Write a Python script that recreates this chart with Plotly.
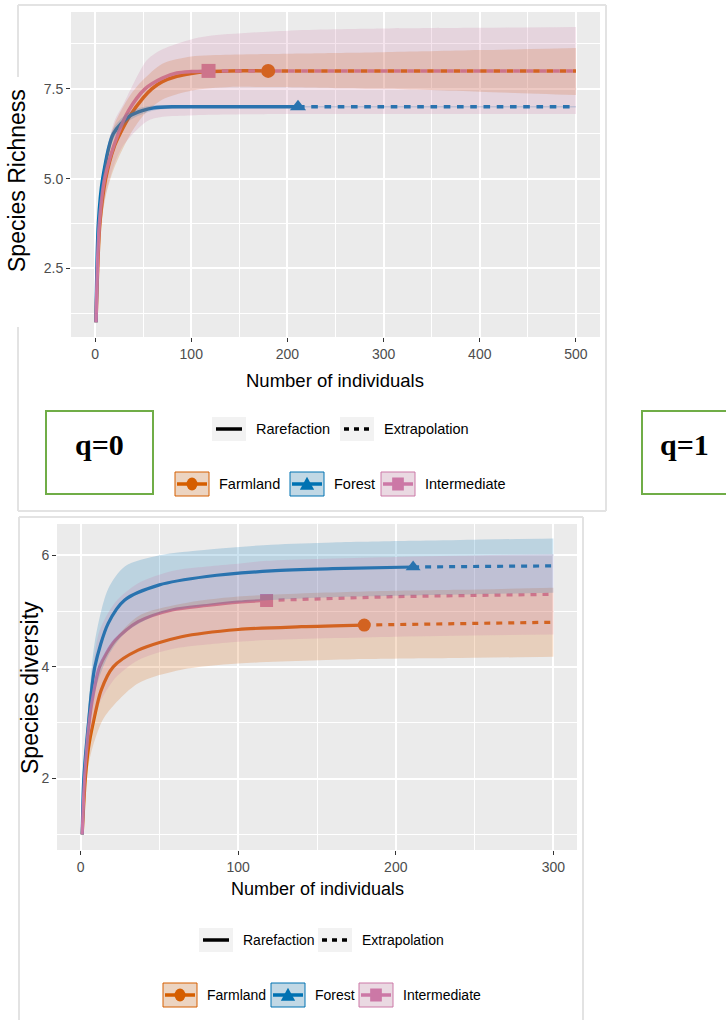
import plotly.graph_objects as go

# ---------------- DATA ----------------
groups = ["Farmland", "Forest", "Intermediate"]
colors = {"Farmland": "#D55E00", "Forest": "#0072B2", "Intermediate": "#CC79A7"}
fills = {"Farmland": "rgba(213,94,0,0.2)", "Forest": "rgba(0,114,178,0.2)",
         "Intermediate": "rgba(204,121,167,0.2)"}
symbols = {"Farmland": "circle", "Forest": "triangle-up", "Intermediate": "square"}

# q = 0 : species richness
q0_farm_rare_n = [1, 5, 11, 20, 26, 36, 50, 59, 70, 85, 100, 116, 140, 180]
q0_farm_rare_v = [1.0, 3.75, 5.0, 5.9, 6.25, 6.74, 7.25, 7.5, 7.7, 7.85, 7.93, 7.98, 8.0, 8.0]
q0_farm_ext_n = [180, 250, 300, 400, 500]
q0_farm_ext_v = [8.0, 8.0, 8.0, 8.0, 8.0]
q0_farm_ci_n = [1, 5, 11, 20, 36, 50, 70, 100, 140, 180, 250, 300, 400, 500]
q0_farm_ci_lo = [1.0, 3.4, 4.5, 5.3, 6.2, 6.75, 7.2, 7.45, 7.55, 7.55, 7.52, 7.5, 7.42, 7.33]
q0_farm_ci_hi = [1.0, 4.1, 5.5, 6.5, 7.3, 7.75, 8.2, 8.4, 8.45, 8.47, 8.5, 8.52, 8.58, 8.64]

q0_forest_rare_n = [1, 3.5, 8, 19, 36, 50, 61, 80, 120, 211]
q0_forest_rare_v = [1.0, 3.75, 5.0, 6.25, 6.74, 6.9, 6.97, 7.0, 7.0, 7.0]
q0_forest_ext_n = [211, 300, 400, 500]
q0_forest_ext_v = [7.0, 7.0, 7.0, 7.0]
q0_forest_ci_n = [1, 3.5, 8, 19, 36, 61, 100, 211, 500]
q0_forest_ci_lo = [1.0, 3.6, 4.85, 6.1, 6.62, 6.9, 6.97, 6.98, 6.98]
q0_forest_ci_hi = [1.0, 3.9, 5.15, 6.4, 6.86, 7.04, 7.02, 7.02, 7.02]

q0_inter_rare_n = [1, 4.5, 10, 24, 35, 52, 70, 85, 100, 118]
q0_inter_rare_v = [1.0, 3.75, 5.0, 6.25, 6.9, 7.5, 7.8, 7.94, 7.98, 8.0]
q0_inter_ext_n = [118, 200, 300, 400, 500]
q0_inter_ext_v = [8.0, 8.0, 8.0, 8.0, 8.0]
q0_inter_ci_n = [1, 5, 10, 20, 30, 54, 70, 99, 118, 200, 300, 400, 500]
q0_inter_ci_lo = [1.0, 3.3, 4.4, 5.4, 5.95, 6.6, 6.72, 6.76, 6.78, 6.8, 6.8, 6.8, 6.8]
q0_inter_ci_hi = [1.0, 4.2, 5.5, 6.6, 7.1, 8.3, 8.6, 8.87, 8.97, 9.12, 9.18, 9.2, 9.22]

q0_obs_n = {"Farmland": 180, "Forest": 211, "Intermediate": 118}
q0_obs_v = {"Farmland": 8.0, "Forest": 7.0, "Intermediate": 8.0}

# q = 1 : species diversity
q1_farm_rare_n = [1, 3, 5, 8, 13, 20.7, 36.5, 64, 100, 140, 180]
q1_farm_rare_v = [1.0, 2.0, 2.55, 3.0, 3.58, 4.0, 4.3, 4.54, 4.67, 4.72, 4.75]
q1_farm_ext_n = [180, 240, 300]
q1_farm_ext_v = [4.75, 4.78, 4.80]
q1_farm_ci_n = [1, 3, 5, 8, 15, 36, 64, 100, 180, 240, 300]
q1_farm_ci_lo = [1.0, 1.8, 2.25, 2.6, 3.1, 3.7, 3.95, 4.06, 4.14, 4.16, 4.18]
q1_farm_ci_hi = [1.0, 2.2, 2.85, 3.4, 4.2, 4.9, 5.13, 5.26, 5.35, 5.38, 5.42]

q1_forest_rare_n = [1, 2, 5, 9, 17.5, 28, 50, 80, 121, 160, 211]
q1_forest_rare_v = [1.0, 2.0, 3.0, 4.0, 4.78, 5.2, 5.47, 5.62, 5.72, 5.76, 5.79]
q1_forest_ext_n = [211, 250, 300]
q1_forest_ext_v = [5.79, 5.80, 5.81]
q1_forest_ci_n = [1, 2, 5, 9, 17.5, 28, 50, 80, 121, 160, 211, 250, 300]
q1_forest_ci_lo = [1.0, 1.9, 2.7, 3.55, 4.2, 4.6, 4.95, 5.1, 5.2, 5.25, 5.28, 5.3, 5.33]
q1_forest_ci_hi = [1.0, 2.1, 3.3, 4.45, 5.4, 5.8, 6.0, 6.1, 6.19, 6.23, 6.26, 6.28, 6.30]

q1_inter_rare_n = [1, 2.5, 5, 8, 12, 22, 36.5, 58, 80, 100, 118]
q1_inter_rare_v = [1.0, 2.0, 2.9, 3.5, 4.0, 4.48, 4.81, 5.02, 5.1, 5.16, 5.19]
q1_inter_ext_n = [118, 200, 300]
q1_inter_ext_v = [5.19, 5.26, 5.30]
q1_inter_ci_n = [1, 2.5, 5, 8, 12, 22, 36.5, 58, 80, 100, 118, 200, 300]
q1_inter_ci_lo = [1.0, 1.85, 2.5, 2.95, 3.35, 3.8, 4.12, 4.32, 4.4, 4.45, 4.48, 4.54, 4.58]
q1_inter_ci_hi = [1.0, 2.15, 3.3, 4.05, 4.65, 5.16, 5.5, 5.72, 5.8, 5.85, 5.9, 5.97, 6.02]

q1_obs_n = {"Farmland": 180, "Forest": 211, "Intermediate": 118}
q1_obs_v = {"Farmland": 4.75, "Forest": 5.79, "Intermediate": 5.19}

x0_ticks = [0, 100, 200, 300, 400, 500]
y0_ticks = [2.5, 5.0, 7.5]
y0_ticktext = ["2.5", "5.0", "7.5"]
x1_ticks = [0, 100, 200, 300]
y1_ticks = [2, 4, 6]

panels = {
    "q0": {
        "Farmland": (q0_farm_rare_n, q0_farm_rare_v, q0_farm_ext_n, q0_farm_ext_v,
                     q0_farm_ci_n, q0_farm_ci_lo, q0_farm_ci_hi),
        "Forest": (q0_forest_rare_n, q0_forest_rare_v, q0_forest_ext_n, q0_forest_ext_v,
                   q0_forest_ci_n, q0_forest_ci_lo, q0_forest_ci_hi),
        "Intermediate": (q0_inter_rare_n, q0_inter_rare_v, q0_inter_ext_n, q0_inter_ext_v,
                         q0_inter_ci_n, q0_inter_ci_lo, q0_inter_ci_hi),
    },
    "q1": {
        "Farmland": (q1_farm_rare_n, q1_farm_rare_v, q1_farm_ext_n, q1_farm_ext_v,
                     q1_farm_ci_n, q1_farm_ci_lo, q1_farm_ci_hi),
        "Forest": (q1_forest_rare_n, q1_forest_rare_v, q1_forest_ext_n, q1_forest_ext_v,
                   q1_forest_ci_n, q1_forest_ci_lo, q1_forest_ci_hi),
        "Intermediate": (q1_inter_rare_n, q1_inter_rare_v, q1_inter_ext_n, q1_inter_ext_v,
                         q1_inter_ci_n, q1_inter_ci_lo, q1_inter_ci_hi),
    },
}
obs = {"q0": (q0_obs_n, q0_obs_v), "q1": (q1_obs_n, q1_obs_v)}

# ---------------- LAYOUT HELPERS ----------------
W, H = 726, 1020


def X(p):
    return p / W


def Y(p):
    return 1 - p / H


SANS = "Liberation Sans, Arial, sans-serif"
SERIF = "Liberation Serif, Times New Roman, serif"

fig = go.Figure()

axes = {"q0": ("x", "y"), "q1": ("x2", "y2")}
lw = {"q0": 3.5, "q1": 3.2}
msize = {"q0": 14, "q1": 13}
dashes = {"q0": "6.6px,6.65px", "q1": "6px,6px"}

for key in ["q0", "q1"]:
    xa, ya = axes[key]
    for g in groups:
        rn, rv, en, ev, cn, clo, chi = panels[key][g]
        fig.add_trace(go.Scatter(x=rn, y=rv, xaxis=xa, yaxis=ya, mode="lines",
                                 line=dict(color=colors[g], width=lw[key], shape="spline", smoothing=0.8),
                                 showlegend=False, hoverinfo="skip"))
        fig.add_trace(go.Scatter(x=en, y=ev, xaxis=xa, yaxis=ya, mode="lines",
                                 line=dict(color=colors[g], width=lw[key], dash=dashes[key]),
                                 showlegend=False, hoverinfo="skip"))
    for g in groups:
        on, ov = obs[key]
        fig.add_trace(go.Scatter(x=[on[g]], y=[ov[g]], xaxis=xa, yaxis=ya, mode="markers",
                                 marker=dict(color=colors[g], symbol=symbols[g], size=msize[key]),
                                 showlegend=False, hoverinfo="skip"))
    # ribbons on top (as in ggiNEXT)
    for g in groups:
        rn, rv, en, ev, cn, clo, chi = panels[key][g]
        fig.add_trace(go.Scatter(x=cn, y=clo, xaxis=xa, yaxis=ya, mode="lines",
                                 line=dict(width=0, shape="spline", smoothing=0.8),
                                 showlegend=False, hoverinfo="skip"))
        fig.add_trace(go.Scatter(x=cn, y=chi, xaxis=xa, yaxis=ya, mode="lines", fill="tonexty",
                                 fillcolor=fills[g], line=dict(width=0, shape="spline", smoothing=0.8),
                                 showlegend=False, hoverinfo="skip"))

grid_common = dict(showgrid=True, gridcolor="white", gridwidth=1.6, zeroline=False, showline=False,
                   ticks="outside", ticklen=4, tickwidth=1, tickcolor="#333333",
                   tickfont=dict(family=SANS, size=14, color="#4D4D4D"))

fig.update_layout(
    width=W, height=H, margin=dict(l=0, r=0, t=0, b=0),
    paper_bgcolor="white", plot_bgcolor="#EBEBEB", showlegend=False,
    xaxis=dict(domain=[X(71), X(600)], range=[-25, 525], anchor="y", tickvals=x0_ticks,
               minor=dict(dtick=50, tick0=0, showgrid=True, gridcolor="white", gridwidth=0.7, ticks=""),
               **grid_common),
    yaxis=dict(domain=[Y(337), Y(12)], range=[0.59, 9.64], anchor="x", tickvals=y0_ticks,
               ticktext=y0_ticktext,
               minor=dict(dtick=1.25, tick0=0, showgrid=True, gridcolor="white", gridwidth=0.7, ticks=""),
               **grid_common),
    xaxis2=dict(domain=[X(57), X(577)], range=[-15, 315], anchor="y2", tickvals=x1_ticks,
                minor=dict(dtick=50, tick0=0, showgrid=True, gridcolor="white", gridwidth=0.7, ticks=""),
                **grid_common),
    yaxis2=dict(domain=[Y(850), Y(524)], range=[0.72, 6.56], anchor="x2", tickvals=y1_ticks,
                minor=dict(dtick=1, tick0=0, showgrid=True, gridcolor="white", gridwidth=0.7, ticks=""),
                **grid_common),
)

shapes = []
ann = []
FRAME = "#E3E3E3"


def line(x0, y0, x1, y1, color, width, dash=None):
    d = dict(type="line", xref="paper", yref="paper", x0=X(x0), y0=Y(y0), x1=X(x1), y1=Y(y1),
             line=dict(color=color, width=width), layer="above")
    if dash:
        d["line"]["dash"] = dash
    shapes.append(d)


def rect(x0, y0, x1, y1, fill, lcolor=None, lwidth=0):
    shapes.append(dict(type="rect", xref="paper", yref="paper", x0=X(x0), y0=Y(y1), x1=X(x1), y1=Y(y0),
                       fillcolor=fill, line=dict(color=lcolor or fill, width=lwidth), layer="above"))


def text(x, y, s, size, family=SANS, color="black", xanchor="left", angle=0, bold=False):
    ann.append(dict(x=X(x), y=Y(y), xref="paper", yref="paper", text=("<b>%s</b>" % s) if bold else s,
                    showarrow=False, xanchor=xanchor, yanchor="middle", textangle=angle,
                    font=dict(family=family, size=size, color=color)))


# panel frames
line(18, 5, 606, 5, FRAME, 2)
line(606, 5, 606, 511, FRAME, 2)
line(18, 511, 606, 511, FRAME, 2)
line(18, 5, 18, 77, FRAME, 2)
line(18, 327, 18, 511, FRAME, 2)
line(19, 517, 583, 517, FRAME, 2)
line(583, 517, 583, 1020, FRAME, 2)
line(19, 517, 19, 1020, FRAME, 2)

# q labels
rect(46, 411, 153, 494, "white", "#70AD47", 2)
text(99.5, 444, "q=0", 30, family=SERIF, xanchor="center", bold=True)
rect(642, 411, 740, 494, "white", "#70AD47", 2)
text(684, 444, "q=1", 30, family=SERIF, xanchor="center", bold=True)

# axis titles
text(335, 380, "Number of individuals", 18.5, xanchor="center")
text(17, 181, "Species Richness", 23, xanchor="center", angle=-90)
text(317, 889, "Number of individuals", 18, xanchor="center")
text(30, 688, "Species diversity", 23, xanchor="center", angle=-90)


def marker_shape(cx, cy, g, s):
    c = colors[g]
    if g == "Farmland":
        shapes.append(dict(type="circle", xref="paper", yref="paper", x0=X(cx - s * 0.42), x1=X(cx + s * 0.42),
                           y0=Y(cy + s * 0.5), y1=Y(cy - s * 0.5), fillcolor=c, line=dict(width=0), layer="above"))
    elif g == "Forest":
        path = "M %f,%f L %f,%f L %f,%f Z" % (X(cx - s * 0.55), Y(cy + s * 0.45), X(cx + s * 0.55),
                                             Y(cy + s * 0.45), X(cx), Y(cy - s * 0.55))
        shapes.append(dict(type="path", xref="paper", yref="paper", path=path, fillcolor=c,
                           line=dict(width=0), layer="above"))
    else:
        shapes.append(dict(type="rect", xref="paper", yref="paper", x0=X(cx - s * 0.45), x1=X(cx + s * 0.45),
                           y0=Y(cy + s * 0.5), y1=Y(cy - s * 0.5), fillcolor=c, line=dict(width=0), layer="above"))


def legend(row1_y, rare_x, ext_x, row2_y, gx, fs):
    for kx, dash, label in [(rare_x, False, "Rarefaction"), (ext_x, True, "Extrapolation")]:
        rect(kx, row1_y - 12, kx + 34, row1_y + 12, "#F2F2F2")
        if dash:
            line(kx + 4, row1_y, kx + 30, row1_y, "black", 3.5, "5px,5px")
        else:
            line(kx + 4, row1_y, kx + 30, row1_y, "black", 3.5)
        text(kx + 42, row1_y, label, fs)
    for g, kx in zip(groups, gx):
        rect(kx, row2_y - 12, kx + 34, row2_y + 12, "#F2F2F2")
        line(kx + 2, row2_y, kx + 32, row2_y, colors[g], 3.5)
        marker_shape(kx + 17, row2_y, g, 13)
        rect(kx, row2_y - 12, kx + 34, row2_y + 12, fills[g], colors[g], 1)
        text(kx + 42, row2_y, g, fs)


legend(429, 212, 340, 484, [175, 290, 381], 14.5)
legend(940, 199, 318, 995, [163, 271, 359], 14)

fig.update_layout(shapes=shapes, annotations=ann)

fig.write_html("out.html", config={"displayModeBar": False},
               post_script="document.body.style.margin='0';document.body.style.overflow='hidden';")
